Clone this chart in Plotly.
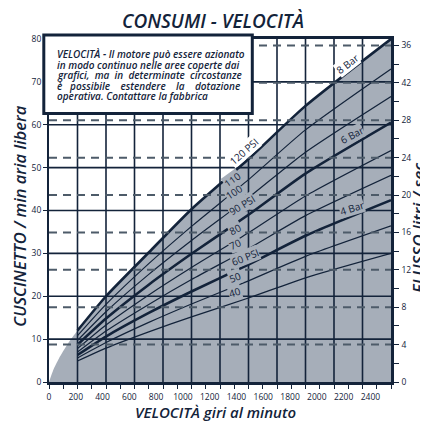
import plotly.graph_objects as go

# ---------------- data ----------------
speed = [200, 400, 700, 1000, 1400, 1800, 2400]
air_120 = [12.0, 20.0, 30.2, 40.3, 52.0, 64.4, 80.0]
air_110 = [10.8, 18.1, 27.6, 36.3, 47.2, 58.8, 73.0]
air_100 = [9.7, 16.4, 25.1, 33.0, 43.0, 53.6, 66.6]
air_90 = [8.7, 14.8, 22.7, 29.9, 39.0, 48.6, 60.5]
air_80 = [7.8, 13.3, 20.3, 26.7, 34.8, 43.4, 54.0]
air_70 = [7.0, 11.9, 18.1, 23.9, 31.1, 38.8, 48.2]
air_60 = [6.3, 10.6, 16.1, 21.1, 27.4, 34.1, 42.4]
air_50 = [5.6, 9.2, 13.9, 18.2, 23.6, 29.3, 36.4]
air_40 = [4.9, 7.9, 11.7, 15.2, 19.6, 24.3, 30.0]

edge_speed = [0, 30, 70, 130, 200]
edge_air = [0, 2.8, 5.5, 8.8, 12.0]

curve_names = ["120", "110", "100", "90", "80", "70", "60", "50", "40"]
curve_values = [air_120, air_110, air_100, air_90, air_80, air_70, air_60, air_50, air_40]
thick_curves = ["120", "90", "60"]

curve_label_text = ["120 PSI", "110", "100", "90 PSI", "80", "70", "60 PSI", "50", "40",
                    "8 Bar", "6 Bar", "4 Bar"]

x_ticks = [0, 200, 400, 600, 800, 1000, 1200, 1400, 1600, 1800, 2000, 2200, 2400]
x_grid = [200, 400, 600, 800, 1000, 1200, 1400, 1600, 1800, 2000, 2200]
y_ticks = [0, 10, 20, 30, 40, 50, 60, 70, 80]
y_grid = [10, 20, 30, 40, 50, 60, 70]
flow_ticks = [0, 4, 8, 12, 16, 20, 24, 28, 32, 36]
flow_ticktext = ["0", "4", "8", "12", "16", "20", "24", "28", "42", "36"]

note_lines = [
    "VELOCITÀ - Il motore può essere azionato",
    "in modo continuo nelle aree coperte dai",
    "grafici,\u00a0 ma\u00a0 in\u00a0 determinate\u00a0 circostanze",
    "è\u00a0\u00a0 possibile\u00a0\u00a0\u00a0 estendere\u00a0\u00a0\u00a0 la\u00a0\u00a0\u00a0 dotazione",
    "operativa. Contattare la fabbrica",
]

# ---------------- styles ----------------
DARK = "#13233a"
FILL = "#a6aeb9"
DASH = "#4d5b69"
FONT = "Open Sans"

# plot area in window pixels (page has an 8px body margin)
PL, PR, PT, PB = 48.7, 390.7, 39.0, 382.3
PW, PH = PR - PL, PB - PT


def px_x(px):
    return (px - PL) / PW


def px_y(py):
    return (PB - py) / PH


fig = go.Figure()

# shaded operating area
fig.add_trace(go.Scatter(
    x=edge_speed + speed[1:], y=edge_air + air_120[1:],
    mode="lines", line=dict(width=0, shape="spline", smoothing=0.6),
    fill="tozeroy", fillcolor=FILL, hoverinfo="skip", showlegend=False))

for name, vals in zip(curve_names, curve_values):
    w = 2.6 if name in thick_curves else 1.2
    fig.add_trace(go.Scatter(
        x=speed, y=vals, mode="lines",
        line=dict(color=DARK, width=w, shape="spline", smoothing=0.6),
        hoverinfo="skip", showlegend=False))

# hidden traces to activate secondary axes
fig.add_trace(go.Scatter(x=[0], y=[0], yaxis="y2", mode="markers",
                         marker=dict(opacity=0), showlegend=False, hoverinfo="skip"))
fig.add_trace(go.Scatter(x=[0], y=[0], xaxis="x2", mode="markers",
                         marker=dict(opacity=0), showlegend=False, hoverinfo="skip"))

shapes = []
for v in x_grid:
    shapes.append(dict(type="line", xref="x", yref="paper", x0=v, x1=v, y0=0, y1=1,
                       line=dict(color=DARK, width=1.6), layer="above"))
for v in y_grid:
    shapes.append(dict(type="line", xref="paper", yref="y", x0=0, x1=1, y0=v, y1=v,
                       line=dict(color=DARK, width=1.6), layer="above"))
for v in flow_ticks[1:]:
    shapes.append(dict(type="line", xref="paper", yref="y2", x0=0, x1=1, y0=v, y1=v,
                       line=dict(color=DASH, width=2, dash="8px,6px"), layer="above"))
# note box
shapes.append(dict(type="rect", xref="paper", yref="paper", x0=px_x(43.5), x1=px_x(252),
                   y0=px_y(113.5), y1=px_y(35), fillcolor="white",
                   line=dict(color=DARK, width=3), layer="above"))

annotations = []
note_y = [54.5, 65, 75.5, 86, 96.5]
for txt, py in zip(note_lines, note_y):
    annotations.append(dict(
        text=txt, xref="paper", yref="paper", x=px_x(55), y=px_y(py),
        xanchor="left", yanchor="middle", showarrow=False,
        font=dict(family=FONT, size=10, color=DARK, style="italic", weight=600)))

# curve labels
label_pos = [
    (1370, 53.8, -41, "white"),
    (1285, 47.1, -36, FILL),
    (1296, 44.4, -34, FILL),
    (1355, 41.2, -31, FILL),
    (1308, 35.8, -28, FILL),
    (1308, 32.3, -25, FILL),
    (1378, 29.2, -22, FILL),
    (1308, 24.6, -20, FILL),
    (1308, 20.9, -17, FILL),
    (2092, 74.2, -38, "white"),
    (2127, 57.5, -28, FILL),
    (2127, 40.5, -17, FILL),
]
for txt, (lx, ly, ang, bg) in zip(curve_label_text, label_pos):
    annotations.append(dict(
        text=txt, x=lx, y=ly, xref="x", yref="y", showarrow=False,
        textangle=ang, bgcolor=bg, borderpad=0,
        font=dict(family=FONT, size=10, color=DARK)))


def title_font(size):
    return dict(family=FONT, size=size, color=DARK, style="italic", weight=600)


annotations.append(dict(text="CONSUMI - VELOCITÀ", xref="paper", yref="paper",
                        x=px_x(213), y=px_y(20.5), xanchor="center", yanchor="middle",
                        showarrow=False, font=title_font(19)))
annotations.append(dict(text="VELOCITÀ giri al minuto", xref="paper", yref="paper",
                        x=px_x(215), y=px_y(412), xanchor="center", yanchor="middle",
                        showarrow=False, font=title_font(15)))
annotations.append(dict(text="CUSCINETTO / min aria libera", xref="paper", yref="paper",
                        x=px_x(19.5), y=px_y(216), xanchor="center", yanchor="middle",
                        showarrow=False, textangle=-90, font=title_font(16.5)))
annotations.append(dict(text="FLUSSO litri / sec", xref="paper", yref="paper",
                        x=px_x(419), y=px_y(228), xanchor="center", yanchor="middle",
                        showarrow=False, textangle=-90, font=title_font(17)))

tickfont = dict(family=FONT, size=8.5, color=DARK)

fig.update_layout(
    width=420, height=417,
    margin=dict(l=PL - 8, r=428 - PR, t=PT - 8, b=425 - PB, autoexpand=False),
    paper_bgcolor="white", plot_bgcolor="white",
    showlegend=False,
    shapes=shapes, annotations=annotations,
    xaxis=dict(range=[0, 2400], dtick=100, tick0=0, showticklabels=False,
               ticks="outside", ticklen=4, tickwidth=1.3, tickcolor=DARK,
               showgrid=False, zeroline=False, showline=True, linecolor=DARK,
               linewidth=2.5, mirror=True),
    xaxis2=dict(range=[0, 2554], overlaying="x", anchor="y", side="bottom",
                tickvals=x_ticks, ticks="", showgrid=False, zeroline=False,
                showline=False, tickfont=tickfont, ticklabelstandoff=8),
    yaxis=dict(range=[0, 80], tickvals=y_ticks, ticks="outside", ticklen=4,
               tickwidth=1.3, tickcolor=DARK, showgrid=False, zeroline=False,
               showline=True, linecolor=DARK, linewidth=2, tickfont=tickfont),
    yaxis2=dict(range=[0, 80 * 4.3 / 9.375], overlaying="y", side="right",
                tickvals=flow_ticks, ticktext=flow_ticktext, ticks="outside",
                ticklen=5, tickwidth=1.3, tickcolor=DARK,
                minor=dict(dtick=2, tick0=0, ticks="outside", ticklen=5,
                           tickwidth=1.3, tickcolor=DARK),
                showgrid=False, zeroline=False, showline=True, linecolor=DARK,
                linewidth=2.5, tickfont=tickfont, ticklabelstandoff=1),
)

fig.write_html("out.html")
